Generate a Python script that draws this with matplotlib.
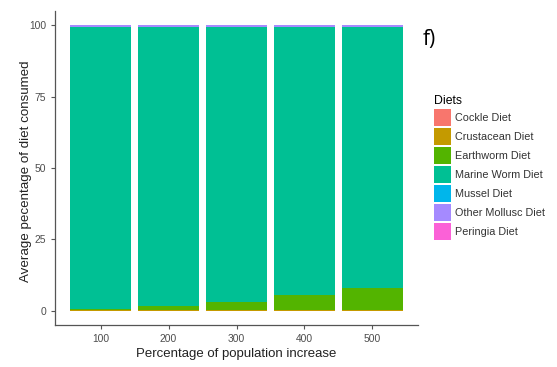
import matplotlib
matplotlib.use("Agg")
import matplotlib.pyplot as plt
from matplotlib.patches import Patch

plt.rcParams['font.family'] = ['Liberation Sans', 'DejaVu Sans']

categories = ["100", "200", "300", "400", "500"]
diets = ["Cockle Diet", "Crustacean Diet", "Earthworm Diet", "Marine Worm Diet",
         "Mussel Diet", "Other Mollusc Diet", "Peringia Diet"]
colors = ["#F8766D", "#C49A00", "#53B400", "#00C094", "#00B6EB", "#A58AFF", "#FB61D7"]

cockle = [0.0, 0.0, 0.0, 0.0, 0.0]
crustacean = [0.3, 0.3, 0.3, 0.3, 0.3]
earthworm = [0.3, 1.3, 2.7, 5.2, 7.8]
marine_worm = [98.7, 97.7, 96.3, 93.8, 91.2]
mussel = [0.0, 0.0, 0.0, 0.0, 0.0]
other_mollusc = [0.7, 0.7, 0.7, 0.7, 0.7]
peringia = [0.0, 0.0, 0.0, 0.0, 0.0]
series = [cockle, crustacean, earthworm, marine_worm, mussel, other_mollusc, peringia]

fig = plt.figure(figsize=(5.57, 3.67), dpi=100)
ax = fig.add_axes([55/557, 42/367, 363/557, 314/367])

x = list(range(1, len(categories) + 1))
bottom = [0.0] * len(categories)
for vals, col in zip(series, colors):
    ax.bar(x, vals, bottom=bottom, width=0.9, color=col, linewidth=0)
    bottom = [b + v for b, v in zip(bottom, vals)]

ax.set_xlim(0.33, 5.67)
ax.set_ylim(-5, 105)
ax.set_xticks(x)
ax.set_xticklabels(categories)
ax.set_yticks([0, 25, 50, 75, 100])
for s in ["top", "right"]:
    ax.spines[s].set_visible(False)
for s in ["left", "bottom"]:
    ax.spines[s].set_color("#555555")
    ax.spines[s].set_linewidth(0.9)
ax.tick_params(axis="both", colors="#555555", labelcolor="#4D4D4D", labelsize=7.4, length=3, width=0.8)
ax.set_xlabel("Percentage of population increase", fontsize=9.5, color="#222222", labelpad=2.5)
ax.set_ylabel("Average pecentage of diet consumed", fontsize=9.6, color="#222222")
ax.yaxis.set_label_coords(-0.064, 0.49)

handles = [Patch(facecolor=c, edgecolor="none") for c in colors]
leg = fig.legend(handles, diets, loc="upper left", bbox_to_anchor=(434/557, 1 - 95/367),
                 frameon=False, title="Diets", fontsize=7.8, title_fontsize=8.8,
                 handlelength=1.57, handleheight=2.04, handletextpad=0.37, labelspacing=0.185,
                 alignment="left", borderaxespad=0, borderpad=0)
for t in leg.get_texts():
    t.set_color("#333333")

fig.text(423/557, 1 - 45/367, "f)", fontsize=15, color="black", family=["Open Sans", "DejaVu Sans"])

fig.savefig("out.png", dpi=100)
